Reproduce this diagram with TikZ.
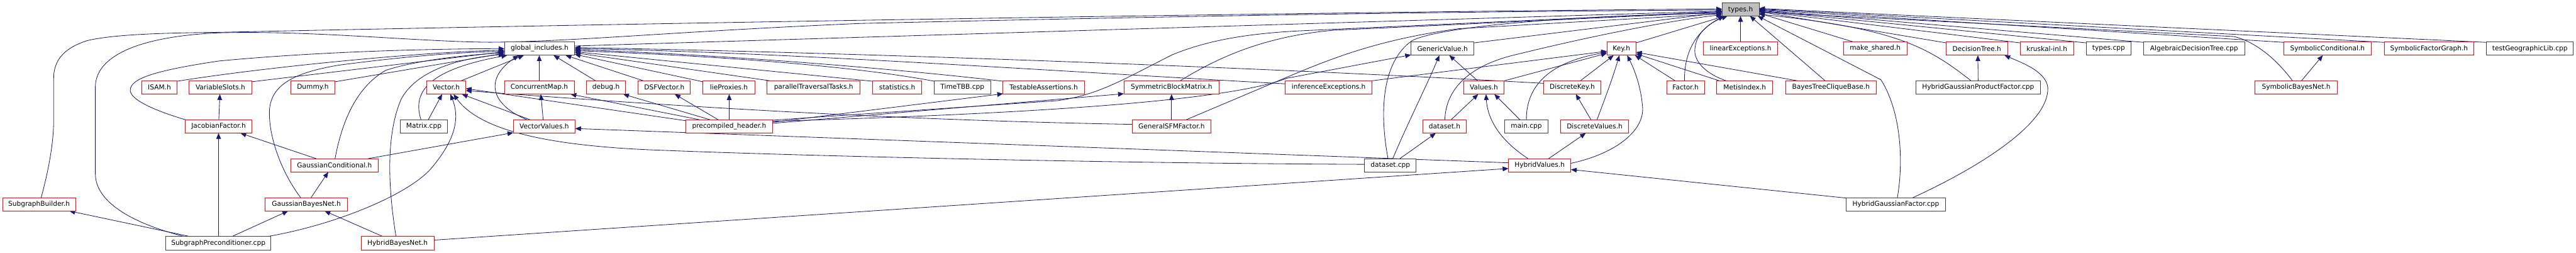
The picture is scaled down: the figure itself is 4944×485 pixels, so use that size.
\documentclass[tikz,border=0pt]{standalone}
\usepackage{fontspec}
\setmainfont{DejaVu Sans}
\usetikzlibrary{arrows.meta,calc}
\definecolor{edgeblue}{HTML}{191970}
\definecolor{nodegray}{HTML}{404040}
\definecolor{fillgray}{HTML}{BFBFBF}
\definecolor{boxred}{HTML}{FF0000}
\pgfdeclarelayer{bg}
\pgfsetlayers{bg,main}
\tikzset{
  basebox/.style={fill=white, line width=1.1pt, minimum height=25.7pt, inner sep=0pt, text=black, font=\fontsize{12.8}{15}\selectfont},
  rbox/.style={basebox, draw=boxred},
  kbox/.style={basebox, draw=nodegray},
  dep/.style={draw=edgeblue, line width=1pt, -{Triangle[length=11pt,width=9pt]}},
}
\begin{document}
\begin{tikzpicture}[x=1pt,y=-1pt]
\useasboundingbox (0,0) rectangle (4944,485);
% row 0
\node[kbox, fill=fillgray, minimum width=71pt, minimum height=25pt] (types) at (3340.5,18.2) {types.h};
% row 1
\node[kbox, minimum width=135pt] (global) at (1035.5,93.2) {global\_includes.h};
\node[kbox, minimum width=121pt] (GV) at (2768.5,93.2) {GenericValue.h};
\node[rbox, minimum width=56pt] (Key) at (3112,93.2) {Key.h};
\node[rbox, minimum width=143pt] (linexc) at (3340.5,93.2) {linearExceptions.h};
\node[rbox, minimum width=122pt] (mkshared) at (3599,93.2) {make\_shared.h};
\node[rbox, minimum width=118pt] (DT) at (3794,93.2) {DecisionTree.h};
\node[rbox, minimum width=103pt] (kruskal) at (3928.5,93.2) {kruskal-inl.h};
\node[kbox, minimum width=86pt] (tcpp) at (4047,93.2) {types.cpp};
\node[kbox, minimum width=194pt] (ADT) at (4211,93.2) {AlgebraicDecisionTree.cpp};
\node[rbox, minimum width=168pt] (SC) at (4467,93.2) {SymbolicConditional.h};
\node[rbox, minimum width=172pt] (SFG) at (4662,93.2) {SymbolicFactorGraph.h};
\node[kbox, minimum width=167pt] (tgeo) at (4855.5,93.2) {testGeographicLib.cpp};
% row 2
\node[rbox, minimum width=68pt] (ISAM) at (306,167.8) {ISAM.h};
\node[rbox, minimum width=120pt] (VS) at (423,167.8) {VariableSlots.h};
\node[rbox, minimum width=85pt] (Dummy) at (600.5,167.8) {Dummy.h};
\node[rbox, minimum width=75pt] (Vector) at (856.5,167.8) {Vector.h};
\node[rbox, minimum width=134pt] (CM) at (1035,167.8) {ConcurrentMap.h};
\node[rbox, minimum width=74pt] (debug) at (1163,167.8) {debug.h};
\node[rbox, minimum width=100pt] (DSF) at (1275,167.8) {DSFVector.h};
\node[rbox, minimum width=100pt] (lie) at (1399,167.8) {lieProxies.h};
\node[rbox, minimum width=179pt] (ptt) at (1561.5,167.8) {parallelTraversalTasks.h};
\node[rbox, minimum width=94pt] (stats) at (1722,167.8) {statistics.h};
\node[kbox, minimum width=108pt] (tbb) at (1847,167.8) {TimeTBB.cpp};
\node[rbox, minimum width=156pt] (TA) at (2003,167.8) {TestableAssertions.h};
\node[rbox, minimum width=183pt] (SBM) at (2248.5,167.8) {SymmetricBlockMatrix.h};
\node[rbox, minimum width=166pt] (infexc) at (2550,167.8) {inferenceExceptions.h};
\node[rbox, minimum width=78pt] (Values) at (2848,167.8) {Values.h};
\node[rbox, minimum width=111pt] (DK) at (3017.5,167.8) {DiscreteKey.h};
\node[rbox, minimum width=72pt] (Factor) at (3235,167.8) {Factor.h};
\node[rbox, minimum width=107pt] (Metis) at (3348.5,167.8) {MetisIndex.h};
\node[rbox, minimum width=174pt] (BTCB) at (3514,167.8) {BayesTreeCliqueBase.h};
\node[kbox, minimum width=239pt] (HGPF) at (3796.5,167.8) {HybridGaussianProductFactor.cpp};
\node[rbox, minimum width=158pt] (SBN) at (4407,167.8) {SymbolicBayesNet.h};
% row 3
\node[rbox, minimum width=127pt] (JF) at (419.5,242.5) {JacobianFactor.h};
\node[kbox, minimum width=91pt] (Mcpp) at (813.5,242.5) {Matrix.cpp};
\node[rbox, minimum width=119pt] (VV) at (1044.5,242.5) {VectorValues.h};
\node[rbox, minimum width=167pt] (pch) at (1399.5,242.5) {precompiled\_header.h};
\node[rbox, minimum width=151pt] (GSFM) at (2248.5,242.5) {GeneralSFMFactor.h};
\node[rbox, minimum width=83pt] (dsh) at (2772.5,242.5) {dataset.h};
\node[kbox, minimum width=83pt] (mcpp) at (2929.5,242.5) {main.cpp};
\node[rbox, minimum width=131pt] (DV) at (3060.5,242.5) {DiscreteValues.h};
% row 4
\node[rbox, minimum width=168pt] (GC) at (642,317.2) {GaussianConditional.h};
\node[kbox, minimum width=99pt] (dscpp) at (2668.5,317.2) {dataset.cpp};
\node[rbox, minimum width=120pt] (HV) at (2955,317.2) {HybridValues.h};
% row 5
\node[rbox, minimum width=140pt] (SB) at (75,391.8) {SubgraphBuilder.h};
\node[rbox, minimum width=158pt] (GBN) at (588,391.8) {GaussianBayesNet.h};
\node[kbox, minimum width=191pt] (HGF) at (3638.5,391.8) {HybridGaussianFactor.cpp};
% row 6
\node[kbox, minimum width=202pt] (SP) at (419,466.5) {SubgraphPreconditioner.cpp};
\node[rbox, minimum width=140pt] (HBN) at (763,466.5) {HybridBayesNet.h};

\begin{pgfonlayer}{bg}
\fill[white] (0,0) rectangle (4944,485);
% ---- into types.h
\draw[dep] ($(global)+(67.5,-5)$) -- ($(types)+(-35.5,3)$);
\draw[dep] ($(SB)+(4,-12.85)$) .. controls (95,320) and (103,270) .. (103,230) -- (103,150) .. controls (103,110) and (130,90) .. (167,78) .. controls (220,65) and (330,63) .. (420,62) .. controls (1200,45) and (2600,22) .. ($(types)+(-35.5,-1)$);
\draw[dep] ($(SP)+(-65,-12.85)$) .. controls (260,430) and (183,390) .. (183,333) -- (183,167) .. controls (183,110) and (260,70) .. (420,63) .. controls (600,58) and (800,80) .. (940,81) .. controls (1100,80) and (1300,60) .. (1650,45) .. controls (2300,30) and (2800,22) .. ($(types)+(-35.5,1)$);
\draw[dep] ($(GV)+(60.5,-11)$) -- ($(types)+(-35.5,6)$);
\draw[dep] ($(Key)+(28,-11)$) -- ($(types)+(-30,12.5)$);
\draw[dep] ($(linexc)+(0,-12.85)$) -- ($(types)+(0,12.5)$);
\draw[dep] ($(mkshared)+(-42,-12.85)$) -- ($(types)+(35.5,7)$);
\draw[dep] ($(BTCB)+(-11,-12.85)$) -- ($(types)+(18,12.5)$);
\draw[dep] ($(HGF)+(3,-12.85)$) .. controls (3652,320) and (3652,220) .. (3610,153) -- ($(types)+(33,12.5)$);
\draw[dep] ($(HGPF)+(-13.5,-12.85)$) .. controls (3700,90) and (3640,55) .. ($(types)+(35.5,9)$);
\draw[dep] ($(DT)+(-59,-11)$) -- ($(types)+(35.5,4)$);
\draw[dep] ($(kruskal)+(-51.5,-11)$) -- ($(types)+(35.5,3)$);
\draw[dep] ($(tcpp)+(-43,-11)$) -- ($(types)+(35.5,2)$);
\draw[dep] ($(ADT)+(-97,-12)$) -- ($(types)+(35.5,1)$);
\draw[dep] ($(SC)+(-84,-12)$) -- ($(types)+(35.5,0)$);
\draw[dep] ($(SFG)+(-86,-12)$) -- ($(types)+(35.5,-1)$);
\draw[dep] ($(tgeo)+(-83.5,-12)$) -- ($(types)+(35.5,-2)$);
\draw[dep] ($(SBN)+(-7,-12.85)$) .. controls (4370,115) and (4330,80) .. (4287,70) -- ($(types)+(35.5,5)$);
\draw[dep] ($(Factor)+(-2,-12.85)$) .. controls (3232,100) and (3255,60) .. ($(types)+(-32,12.5)$);
\draw[dep] ($(Metis)+(-35.5,-12.85)$) .. controls (3270,140) and (3250,115) .. (3253,93) .. controls (3256,60) and (3285,42) .. ($(types)+(-25,12.5)$);
\draw[dep] ($(SBM)+(16.5,-12.85)$) .. controls (2330,115) and (2420,70) .. (2560,58) -- ($(types)+(-35.5,5)$);
\draw[dep] ($(GSFM)+(28,-12.85)$) -- (2470,148) .. controls (2560,110) and (2650,75) .. (2800,55) -- ($(types)+(-35.5,8)$);
\draw[dep] ($(pch)+(83.5,-12)$) -- (2030,193) .. controls (2110,182) and (2160,150) .. (2250,105) .. controls (2330,72) and (2420,62) .. (2520,58) -- ($(types)+(-35.5,4)$);
\draw[dep] ($(dscpp)+(-4.5,-12.85)$) .. controls (2648,220) and (2650,120) .. (2710,78) .. controls (2760,52) and (3000,30) .. ($(types)+(-35.5,7)$);
\draw[dep] ($(dsh)+(0.5,-12.85)$) .. controls (2775,170) and (2820,128) .. (2900,107) .. controls (3050,70) and (3200,40) .. ($(types)+(-35.5,10)$);
% ---- into GenericValue.h
\draw[dep] ($(pch)+(83.5,-10)$) .. controls (2100,215) and (2380,185) .. (2470,150) -- ($(GV)+(-60.5,12)$);
\draw[dep] ($(dscpp)+(4.5,-12.85)$) .. controls (2700,240) and (2740,160) .. ($(GV)+(-6,12.85)$);
\draw[dep] ($(Values)+(-12,-12.85)$) -- ($(GV)+(13,12.85)$);
% ---- into global_includes.h
\draw[dep] ($(ISAM)+(34,-12)$) .. controls (500,130) and (800,100) .. ($(global)+(-67.5,3)$);
\draw[dep] ($(VS)+(60,-11)$) -- ($(global)+(-67.5,6)$);
\draw[dep] ($(Dummy)+(42.5,-11)$) -- ($(global)+(-67.5,9)$);
\draw[dep] ($(JF)+(-63.5,-12.85)$) .. controls (290,210) and (250,190) .. (250,173) .. controls (250,150) and (300,135) .. (420,117) .. controls (600,100) and (800,94) .. ($(global)+(-67.5,0)$);
\draw[dep] ($(GC)+(1,-12.85)$) .. controls (655,240) and (680,170) .. (740,135) .. controls (800,115) and (900,105) .. ($(global)+(-67.5,8)$);
\draw[dep] ($(GBN)+(-11,-12.85)$) .. controls (540,330) and (517,265) .. (517,217) .. controls (517,165) and (560,140) .. (650,125) .. controls (800,105) and (900,100) .. ($(global)+(-67.5,5)$);
\draw[dep] ($(HBN)+(-3,-12.85)$) .. controls (745,360) and (740,260) .. (770,190) .. controls (800,135) and (880,112) .. ($(global)+(-67.5,11)$);
\draw[dep] ($(Mcpp)+(-5.5,-12.85)$) .. controls (792,180) and (815,135) .. ($(global)+(-62,12.85)$);
\draw[dep] ($(Vector)+(28.5,-12.85)$) -- ($(global)+(-30,12.85)$);
\draw[dep] ($(VV)+(-33,-12.85)$) .. controls (940,200) and (930,150) .. ($(global)+(-40,12.85)$);
\draw[dep] ($(CM)+(0,-12.85)$) -- ($(global)+(-0.5,12.85)$);
\draw[dep] ($(debug)+(-20,-12.85)$) -- ($(global)+(27,12.85)$);
\draw[dep] ($(DSF)+(-40,-12.85)$) -- ($(global)+(50,12.85)$);
\draw[dep] ($(lie)+(-50,-11)$) -- ($(global)+(67.5,11)$);
\draw[dep] ($(ptt)+(-83.5,-12.85)$) -- ($(global)+(67.5,8)$);
\draw[dep] ($(stats)+(-47,-12)$) -- ($(global)+(67.5,6)$);
\draw[dep] ($(tbb)+(-54,-12)$) .. controls (1700,138) and (1500,112) .. ($(global)+(67.5,4)$);
\draw[dep] ($(TA)+(-78,-12)$) .. controls (1750,135) and (1400,105) .. ($(global)+(67.5,2)$);
\draw[dep] ($(infexc)+(-83,-7)$) .. controls (2000,135) and (1500,100) .. ($(global)+(67.5,0)$);
\draw[dep] ($(DK)+(-55.5,-8)$) .. controls (2400,128) and (1600,100) .. ($(global)+(67.5,-2)$);
% ---- into Vector.h
\draw[dep] ($(Mcpp)+(8.5,-12.85)$) -- ($(Vector)+(-8,12.85)$);
\draw[dep] ($(VV)+(-27,-12.85)$) -- ($(Vector)+(30,12.85)$);
\draw[dep] ($(SP)+(94,-12.85)$) .. controls (650,430) and (790,370) .. (830,320) .. controls (880,260) and (880,220) .. ($(Vector)+(8,12.85)$);
\draw[dep] ($(dscpp)+(-49.5,-2)$) .. controls (2100,313) and (1500,298) .. (1240,287) .. controls (1050,278) and (920,250) .. ($(Vector)+(14,12.85)$);
\draw[dep] ($(GSFM)+(-75.5,-4)$) .. controls (1800,232) and (1400,212) .. ($(Vector)+(37.5,6)$);
\draw[dep] ($(pch)+(-83.5,-11)$) -- ($(Vector)+(37.5,2)$);
% ---- pch and friends
\draw[dep] ($(VV)+(-2,-12.85)$) -- ($(CM)+(3,12.85)$);
\draw[dep] ($(pch)+(-56.5,-12.85)$) -- ($(CM)+(60,12.85)$);
\draw[dep] ($(pch)+(-36.5,-12.85)$) -- ($(debug)+(33,12.85)$);
\draw[dep] ($(pch)+(-21,-12.85)$) -- ($(DSF)+(20,12.85)$);
\draw[dep] ($(pch)+(0,-12.85)$) -- ($(lie)+(0.5,12.85)$);
\draw[dep] ($(pch)+(83.5,-8)$) -- ($(TA)+(-78,12)$);
\draw[dep] ($(pch)+(83.5,-6)$) -- ($(SBM)+(-91.5,12)$);
\draw[dep] ($(GSFM)+(0,-12.85)$) -- ($(SBM)+(0,12.85)$);
% ---- linear
\draw[dep] ($(GC)+(64,-12.85)$) -- ($(VV)+(-59.5,12)$);
\draw[dep] ($(HV)+(-60,-5)$) -- ($(VV)+(59.5,4)$);
\draw[dep] ($(GC)+(-35,-12.85)$) -- ($(JF)+(42,12.85)$);
\draw[dep] ($(SP)+(0.5,-12.85)$) -- ($(JF)+(0,12.85)$);
\draw[dep] ($(JF)+(0.5,-12.85)$) -- ($(VS)+(-1,12.85)$);
\draw[dep] ($(GBN)+(9,-12.85)$) -- ($(GC)+(-12,12.85)$);
\draw[dep] ($(SP)+(26,-12.85)$) -- ($(GBN)+(-35,12.85)$);
\draw[dep] ($(HBN)+(-28,-12.85)$) -- ($(GBN)+(35,12.85)$);
\draw[dep] ($(SP)+(-54,-12.85)$) -- ($(SB)+(58,12.85)$);
\draw[dep] ($(HBN)+(70,-6)$) -- ($(HV)+(-60,6)$);
\draw[dep] ($(HGF)+(-95.5,-12)$) -- ($(HV)+(60,8)$);
% ---- into Key.h
\draw[dep] ($(infexc)+(83,-12.85)$) -- ($(Key)+(-28,5)$);
\draw[dep] ($(Values)+(39,-12.85)$) -- ($(Key)+(-28,9)$);
\draw[dep] ($(DK)+(15.5,-12.85)$) -- ($(Key)+(-15,12.85)$);
\draw[dep] ($(mcpp)+(0,-12.85)$) .. controls (2929,160) and (2980,118) .. ($(Key)+(-28,7)$);
\draw[dep] ($(DV)+(4.5,-12.85)$) .. controls (3080,190) and (3095,150) .. ($(Key)+(-4,12.85)$);
\draw[dep] ($(HV)+(60,-4)$) .. controls (3100,295) and (3160,250) .. (3152,200) .. controls (3148,160) and (3135,130) .. ($(Key)+(11,12.85)$);
\draw[dep] ($(Factor)+(-20,-12.85)$) -- ($(Key)+(26,12.85)$);
\draw[dep] ($(Metis)+(-48.5,-12.85)$) -- ($(Key)+(28,10)$);
\draw[dep] ($(BTCB)+(-64,-12.85)$) -- ($(Key)+(28,7)$);
% ---- Values / dataset / discrete
\draw[dep] ($(dsh)+(12.5,-12.85)$) -- ($(Values)+(-11,12.85)$);
\draw[dep] ($(HV)+(-22,-12.85)$) .. controls (2880,270) and (2855,230) .. ($(Values)+(4,12.85)$);
\draw[dep] ($(mcpp)+(-12.5,-12.85)$) -- ($(Values)+(20,12.85)$);
\draw[dep] ($(dscpp)+(18,-12.85)$) -- ($(dsh)+(-17,12.85)$);
\draw[dep] ($(DV)+(-7,-12.85)$) -- ($(DK)+(7,12.85)$);
\draw[dep] ($(HV)+(17,-12.85)$) -- ($(DV)+(-17,12.85)$);
% ---- decision tree / symbolic
\draw[dep] ($(HGF)+(33,-12.85)$) .. controls (3800,320) and (3925,240) .. (3930,175) .. controls (3935,140) and (3880,120) .. ($(DT)+(53,12.85)$);
\draw[dep] ($(HGPF)+(0,-12.85)$) -- ($(DT)+(2,12.85)$);
\draw[dep] ($(SBN)+(10,-12.85)$) -- ($(SC)+(-9,12.85)$);
\end{pgfonlayer}
\end{tikzpicture}
\end{document}
